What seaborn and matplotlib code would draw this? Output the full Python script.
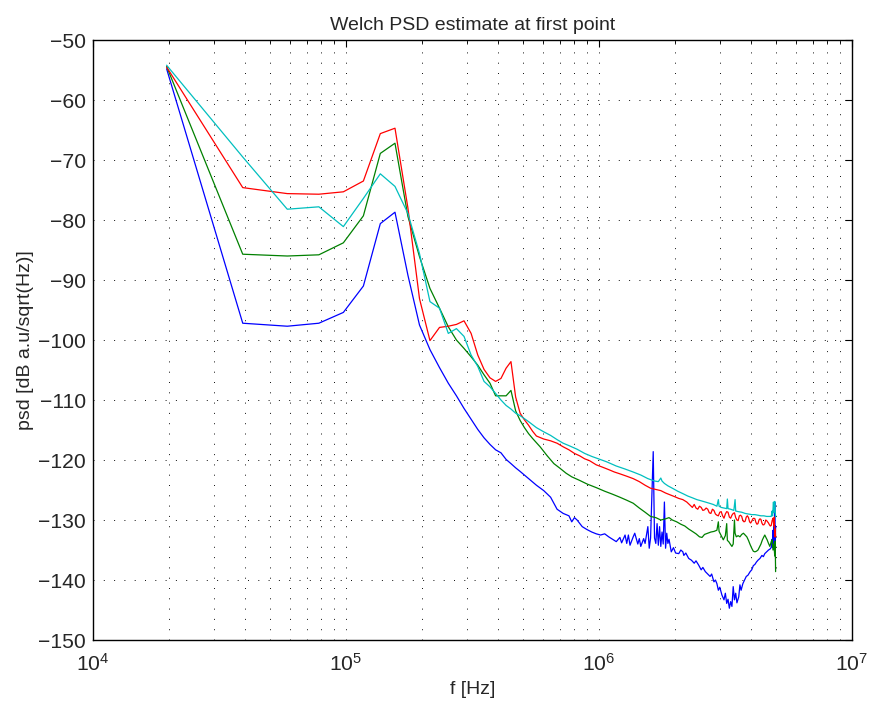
import numpy as np
import pandas as pd
import matplotlib
matplotlib.use("Agg")
import matplotlib.pyplot as plt
import seaborn as sns
from matplotlib.ticker import LogLocator, FixedLocator, NullFormatter

# frequency resolution of the Welch estimate (Hz per bin)
bin_width_hz = 19531.25

blue_bins = [1, 2, 3, 4, 5, 6, 7, 8, 9, 10, 11, 12, 13, 14, 15, 16, 17, 18, 19, 20,
             21, 22, 23, 24, 25, 27, 29, 31, 33, 35, 37, 39, 40, 41, 42, 44, 46, 48, 50, 52,
             54, 56, 58, 60, 62, 63, 65, 66, 67, 68, 70, 71, 73, 74, 75, 77, 78, 80, 81, 82,
             84, 85, 86, 87, 88, 89, 90, 91, 92, 93, 94, 95, 96, 97, 99, 101, 103, 106, 108, 110,
             111, 113, 116, 119, 122, 124, 127, 130, 132, 135, 138, 141, 143, 146, 148, 150, 152, 154, 157, 160,
             162, 164, 166, 168, 170, 172, 174, 176, 178, 180, 183, 185, 187, 190, 193, 196, 199, 203, 206, 209,
             212, 215, 218, 222, 226, 229, 232, 236, 240, 244, 247, 248, 249, 250, 251, 252, 253, 254, 255, 256]
blue_db = [-54.8, -97.2, -97.7, -97.2, -95.4, -91.0, -80.6, -78.7, -89.2, -97.5, -101.6, -104.6, -107.2, -109.3, -111.4, -113.2, -114.9, -116.3, -117.4, -118.3,
           -118.8, -119.9, -120.6, -121.3, -121.9, -123.1, -124.2, -125.1, -126.2, -128.2, -128.9, -129.3, -130.3, -129.6, -130.0, -131.1, -131.6, -132.0, -132.3, -132.5,
           -132.3, -132.8, -133.2, -133.6, -132.9, -133.8, -132.5, -133.9, -132.5, -134.2, -132.8, -132.2, -134.0, -133.1, -134.4, -133.1, -133.9, -131.1, -134.7, -133.0,
           -118.6, -133.0, -133.9, -130.6, -134.2, -131.1, -134.4, -132.0, -134.0, -127.0, -134.7, -132.2, -133.9, -133.2, -135.3, -134.6, -135.5, -135.6, -135.0, -135.3,
           -135.9, -135.5, -136.4, -136.7, -137.2, -136.8, -137.5, -138.3, -137.9, -138.6, -139.0, -139.4, -139.0, -140.3, -140.0, -140.6, -141.7, -141.2, -142.5, -143.3,
           -142.2, -143.9, -143.2, -144.7, -143.6, -144.4, -141.1, -143.3, -142.2, -143.8, -142.8, -140.8, -141.7, -140.6, -140.0, -139.4, -139.2, -138.6, -138.3, -137.6,
           -137.4, -137.0, -136.7, -136.4, -135.9, -136.1, -135.6, -135.3, -135.0, -134.8, -134.4, -133.2, -134.6, -131.7, -134.0, -130.5, -133.5, -127.0, -135.5, -131.0]

green_bins = [1, 2, 3, 4, 5, 6, 7, 8, 9, 10, 11, 12, 13, 14, 15, 16, 17, 18, 19, 20,
              21, 22, 23, 24, 25, 26, 27, 28, 30, 32, 34, 36, 38, 40, 43, 46, 50, 54, 58, 62,
              66, 70, 74, 78, 82, 86, 90, 94, 97, 100, 104, 108, 112, 116, 120, 124, 128, 131, 134, 138,
              142, 146, 150, 152, 153, 156, 159, 162, 164, 165, 167, 170, 172, 174, 176, 177, 179, 182, 185, 188,
              191, 194, 197, 200, 203, 206, 209, 212, 215, 218, 221, 224, 227, 230, 232, 235, 237, 240, 243, 246,
              248, 250, 252, 254, 255, 256]
green_db = [-54.4, -85.7, -86.0, -85.8, -83.8, -79.3, -68.9, -67.2, -79.4, -86.1, -91.4, -94.7, -97.8, -100.0, -101.4, -102.8, -104.2, -105.8, -107.2, -109.3,
            -109.3, -109.3, -108.4, -111.8, -113.4, -114.6, -115.6, -116.4, -117.8, -119.3, -120.6, -121.4, -122.2, -122.8, -123.4, -124.0, -124.6, -125.2, -125.7, -126.2,
            -126.7, -127.2, -128.0, -128.7, -129.4, -129.6, -130.0, -129.8, -129.6, -130.0, -130.3, -130.7, -131.0, -131.5, -131.9, -132.3, -132.8, -132.9, -132.4, -132.2,
            -132.0, -131.9, -131.7, -130.3, -131.9, -132.6, -133.3, -132.6, -130.6, -133.4, -133.6, -134.1, -134.4, -134.0, -130.0, -132.2, -132.8, -132.6, -132.8, -132.4,
            -132.2, -132.5, -132.8, -133.4, -134.1, -134.7, -135.2, -135.3, -135.2, -135.0, -134.5, -134.0, -133.3, -132.8, -132.5, -133.0, -133.3, -133.9, -134.4, -133.6,
            -133.3, -135.0, -134.0, -136.0, -133.5, -138.6]

red_bins = [1, 2, 3, 4, 5, 6, 7, 8, 9, 10, 11, 12, 13, 14, 15, 16, 17, 18, 19, 20,
            21, 22, 23, 24, 25, 26, 27, 28, 29, 31, 33, 35, 37, 39, 41, 43, 45, 47, 50, 53,
            56, 59, 62, 66, 70, 74, 78, 82, 86, 90, 94, 98, 102, 106, 110, 114, 118, 120, 122, 124,
            126, 128, 130, 132, 134, 136, 138, 140, 142, 144, 146, 148, 150, 152, 154, 156, 158, 160, 162, 164,
            166, 168, 170, 172, 174, 176, 178, 180, 182, 184, 186, 188, 190, 192, 194, 196, 198, 200, 202, 204,
            206, 208, 210, 212, 214, 216, 218, 220, 222, 224, 226, 228, 230, 232, 234, 236, 238, 240, 242, 244,
            246, 248, 250, 252, 253, 254, 255, 256]
red_db = [-54.5, -74.6, -75.6, -75.7, -75.3, -73.5, -65.6, -64.7, -78.0, -93.1, -100.1, -97.9, -97.7, -97.4, -96.8, -98.9, -102.5, -104.9, -106.3, -106.9,
          -106.4, -104.7, -103.6, -109.5, -112.2, -113.3, -114.2, -115.2, -116.0, -116.5, -116.8, -117.2, -117.8, -118.3, -118.9, -119.3, -119.8, -120.1, -120.8, -121.2,
          -121.6, -122.0, -122.3, -122.7, -123.1, -123.6, -124.2, -124.7, -124.9, -125.1, -125.5, -125.8, -126.1, -126.4, -126.6, -127.0, -127.6, -127.9, -127.4, -128.0,
          -128.2, -127.7, -127.9, -128.4, -128.3, -128.0, -128.2, -128.8, -128.9, -128.2, -128.4, -129.0, -129.2, -129.3, -128.7, -128.6, -129.3, -129.7, -129.0, -128.6,
          -128.7, -129.5, -129.7, -129.2, -128.9, -128.8, -129.6, -130.0, -130.1, -129.3, -129.2, -129.4, -130.1, -130.3, -130.2, -129.5, -129.3, -129.6, -130.3, -130.5,
          -130.2, -129.8, -129.7, -129.8, -130.4, -130.7, -130.6, -130.0, -129.8, -129.9, -130.5, -130.8, -130.8, -130.6, -130.0, -130.1, -130.3, -130.5, -130.8, -131.0,
          -130.9, -130.1, -129.7, -131.0, -129.5, -132.8, -131.5, -132.8]

cyan_bins = [1, 2, 3, 4, 5, 6, 7, 8, 9, 10, 11, 12, 13, 14, 15, 16, 17, 18, 19, 20,
             21, 22, 23, 24, 25, 27, 29, 31, 33, 35, 37, 39, 42, 45, 48, 51, 55, 60, 65, 70,
             75, 80, 85, 88, 90, 91, 93, 96, 100, 105, 110, 115, 120, 125, 130, 135, 140, 145, 150, 152,
             153, 156, 160, 164, 165, 166, 170, 175, 177, 178, 182, 188, 194, 200, 206, 212, 218, 224, 230, 236,
             242, 246, 248, 249, 251, 252, 254, 255, 256]
cyan_db = [-54.2, -69.5, -78.2, -77.8, -81.1, -76.4, -72.3, -74.4, -78.9, -85.6, -93.6, -94.7, -98.9, -98.1, -99.4, -102.5, -104.4, -106.9, -107.8, -108.9,
           -110.0, -110.9, -111.5, -112.2, -112.6, -113.6, -114.6, -115.3, -115.9, -116.6, -117.2, -117.6, -118.2, -118.9, -119.4, -119.8, -120.3, -121.0, -121.5, -122.0,
           -122.5, -123.1, -123.5, -123.6, -123.0, -123.5, -123.9, -124.3, -124.7, -125.2, -125.6, -126.0, -126.3, -126.6, -126.8, -127.0, -127.2, -127.4, -127.7, -126.6,
           -127.7, -127.9, -128.0, -128.1, -126.5, -128.1, -128.2, -128.4, -126.6, -128.5, -128.6, -128.7, -128.9, -129.0, -129.1, -129.1, -129.2, -129.3, -129.3, -129.4,
           -129.4, -129.4, -128.5, -129.3, -127.0, -128.8, -126.9, -128.5, -129.5]

series = [("blue", blue_bins, blue_db), ("green", green_bins, green_db),
          ("red", red_bins, red_db), ("cyan", cyan_bins, cyan_db)]
frames = []
for name, bins, vals in series:
    assert len(bins) == len(vals), name
    frames.append(pd.DataFrame({"f": np.asarray(bins) * bin_width_hz,
                                "psd": vals, "series": name}))
df = pd.concat(frames, ignore_index=True)

palette = {"blue": (0, 0, 1), "green": (0, 0.5, 0), "red": (1, 0, 0), "cyan": (0, 0.75, 0.75)}

sns.set_style("white")
plt.rcParams["font.family"] = ["Liberation Sans", "DejaVu Sans"]
plt.rcParams["mathtext.fontset"] = "custom"
plt.rcParams["mathtext.rm"] = "Liberation Sans"
plt.rcParams["mathtext.it"] = "Liberation Sans"

fig = plt.figure(figsize=(8.7, 7.08), dpi=100)
ax = fig.add_axes([0.107, 0.096, 0.872, 0.8475])

sns.lineplot(data=df, x="f", y="psd", hue="series", palette=palette,
             hue_order=["blue", "green", "red", "cyan"], units="series",
             estimator=None, sort=False, legend=False, linewidth=0.9, ax=ax)

ax.set_xscale("log")
ax.set_xlim(1e4, 1e7)
ax.set_ylim(-150, -50)
ax.set_yticks(np.arange(-150, -49, 10))
ax.xaxis.set_major_locator(FixedLocator([1e4, 1e5, 1e6, 1e7]))
ax.xaxis.set_minor_locator(LogLocator(base=10, subs=np.arange(2, 10), numticks=20))
ax.xaxis.set_minor_formatter(NullFormatter())

grid_style = dict(color="0.1", linestyle=(0, (1.0, 9.3)), linewidth=0.72)
ax.grid(True, which="major", axis="both", **grid_style)
ax.grid(True, which="minor", axis="x", **grid_style)

for sp in ax.spines.values():
    sp.set_visible(True)
    sp.set_color("black")
    sp.set_linewidth(1.0)

ax.tick_params(axis="both", which="both", direction="in", top=True, right=True,
               color="black")
ax.tick_params(axis="both", which="major", length=5, width=0.8, labelsize=15.2, pad=5)
ax.tick_params(axis="x", which="minor", length=3, width=0.6)
ax.tick_params(axis="x", which="major", pad=9)

ax.set_xlabel("f [Hz]", fontsize=14, labelpad=5)
ax.set_ylabel("psd [dB a.u/sqrt(Hz)]", fontsize=14, labelpad=3)
ax.set_title("Welch PSD estimate at first point", fontsize=14, pad=7)

fig.savefig("out.png", dpi=100)
